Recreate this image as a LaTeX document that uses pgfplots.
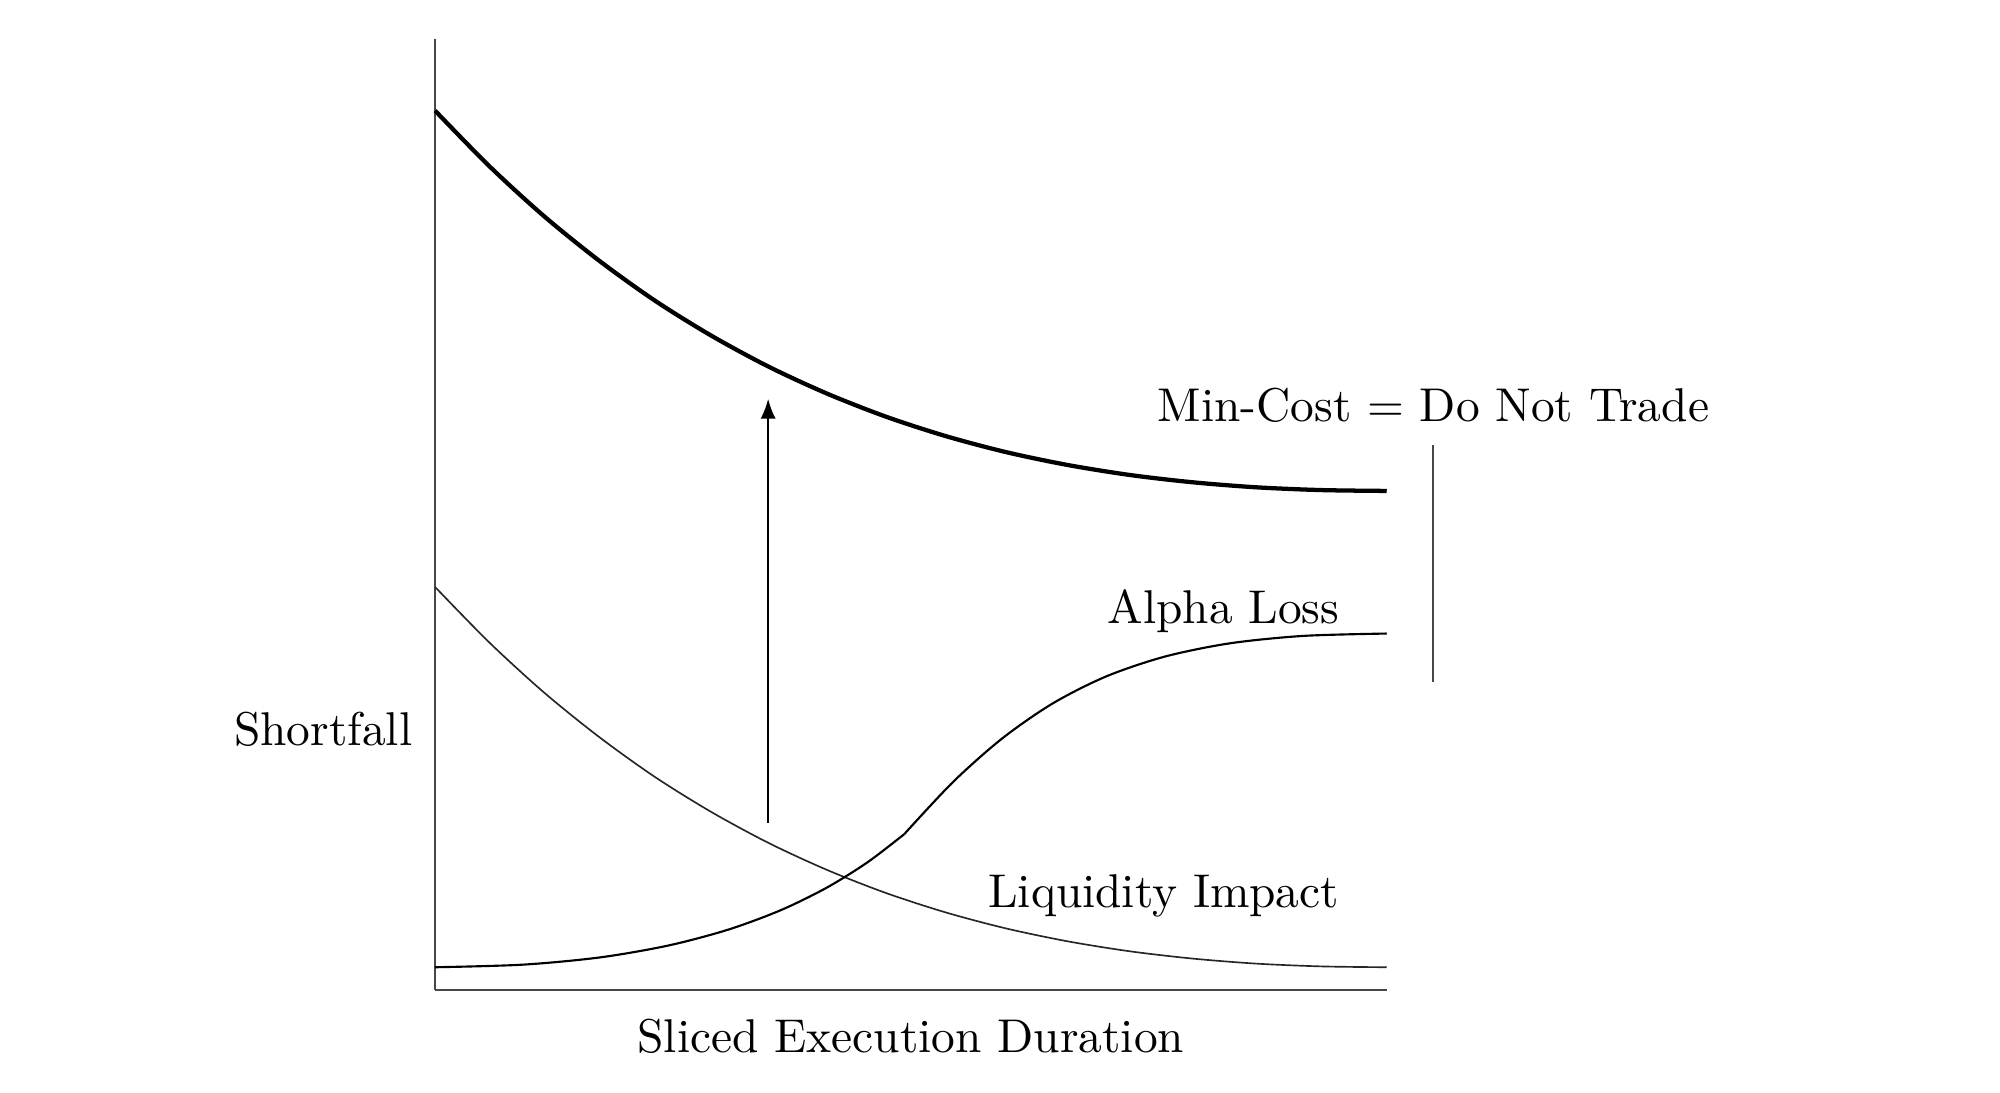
\documentclass[border=0pt]{standalone}
\usepackage{pgfplots}
\pgfplotsset{compat=1.18}
\usetikzlibrary{arrows.meta}

\begin{document}
\begin{tikzpicture}
\useasboundingbox (-91.8pt,-21.7pt) rectangle (330.2pt,208.9pt);
\begin{axis}[
  at={(0,0)}, anchor=south west,
  width=200.8pt, height=200.6pt, scale only axis,
  xmin=0, xmax=10, ymin=0, ymax=10, enlargelimits=false,
  axis lines=left, axis line style={-, black!72, line width=0.45pt},
  xtick=\empty, ytick=\empty, clip=false,
]
% total cost (thick)
\addplot[black, line width=0.9pt, smooth] coordinates {
  (0,9.25)(0.566,8.670)(1.139,8.145)(1.720,7.675)(2.308,7.253)(2.903,6.883)
  (3.507,6.556)(4.118,6.274)(4.738,6.031)(5.365,5.827)(6.001,5.658)(6.646,5.523)
  (7.299,5.418)(7.961,5.341)(8.631,5.288)(9.311,5.259)(10,5.25)};
% liquidity impact
\addplot[black!85, line width=0.35pt, smooth] coordinates {
  (0,4.24)(0.566,3.660)(1.139,3.135)(1.720,2.665)(2.308,2.243)(2.903,1.873)
  (3.507,1.546)(4.118,1.264)(4.738,1.021)(5.365,0.817)(6.001,0.648)(6.646,0.513)
  (7.299,0.408)(7.961,0.331)(8.631,0.278)(9.311,0.249)(10,0.24)};
% alpha loss, two pieces meeting at a corner
\addplot[black, line width=0.45pt, smooth] coordinates {
  (0,0.24)(0.918,0.267)(1.729,0.343)(2.444,0.467)(3.072,0.633)(3.625,0.837)
  (4.112,1.075)(4.544,1.344)(4.93,1.64)};
\addplot[black, line width=0.45pt, smooth] coordinates {
  (4.93,1.64)(5.447,2.193)(5.961,2.648)(6.490,3.015)(7.052,3.299)(7.666,3.507)
  (8.350,3.647)(9.121,3.725)(10,3.75)};
% arrow and marker line
\addplot[black, line width=0.45pt, -{Latex[length=4.2pt,width=3.2pt]}] coordinates {(3.5,1.76)(3.5,6.22)};
\addplot[black!72, line width=0.45pt] coordinates {(10.49,3.24)(10.49,5.73)};

\node[anchor=base] at (axis cs:10.49,5.98) {Min-Cost = Do Not Trade};
\node[anchor=base east, inner sep=0pt] at (axis cs:9.51,3.86) {Alpha Loss};
\node[anchor=base east, inner sep=0pt] at (axis cs:9.51,0.87) {Liquidity Impact};
\node[anchor=base east, inner sep=0pt] at (axis cs:-0.23,2.57) {Shortfall};
\node[anchor=base] at (axis cs:5.0,-0.66) {Sliced Execution Duration};
\end{axis}
\end{tikzpicture}
\end{document}
